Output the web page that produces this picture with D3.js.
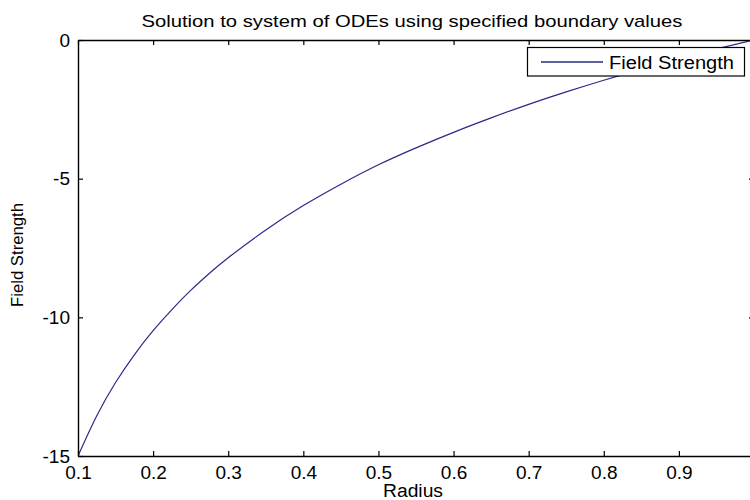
<!DOCTYPE html>
<html>
<head>
<meta charset="utf-8">
<script src="https://cdn.jsdelivr.net/npm/d3@7"></script>
<style>
  html, body { margin: 0; padding: 0; background: #fff; }
  svg { display: block; }
  text { font-family: "Liberation Sans", Arial, Helvetica, sans-serif; fill: #000; }
</style>
</head>
<body>
<svg id="chart" width="750" height="500"></svg>
<script>
// Solution curve: radius vs field strength
const radius = [0.1, 0.125, 0.15, 0.175, 0.2, 0.225, 0.25, 0.275, 0.3, 0.35, 0.4, 0.45, 0.5, 0.55, 0.6, 0.65, 0.7, 0.75, 0.8, 0.85, 0.9, 0.95, 1.0];
const fieldStrength = [-15, -13.55, -12.35, -11.35, -10.48, -9.72, -9.03, -8.41, -7.85, -6.85, -5.97, -5.2, -4.5, -3.89, -3.33, -2.81, -2.32, -1.87, -1.45, -1.06, -0.69, -0.33, 0];

const xTicks = [0.1, 0.2, 0.3, 0.4, 0.5, 0.6, 0.7, 0.8, 0.9];
const xTickLabels = ["0.1", "0.2", "0.3", "0.4", "0.5", "0.6", "0.7", "0.8", "0.9"];
const yTicks = [0, -5, -10, -15];
const yTickLabels = ["0", "-5", "-10", "-15"];

const titleText = "Solution to system of ODEs using specified boundary values";
const xLabel = "Radius";
const yLabel = "Field Strength";
const seriesName = "Field Strength";

const svg = d3.select("#chart");
const plot = { left: 78, right: 754, top: 40, bottom: 456 };

const x = d3.scaleLinear().domain([0.1, 1.0]).range([plot.left, plot.right]);
const y = d3.scaleLinear().domain([-15, 0]).range([plot.bottom, plot.top]);

const lineColor = "#2a2a86";
const tickLen = 5;

// clip region for the curve
svg.append("defs").append("clipPath").attr("id", "plotClip")
  .append("rect")
  .attr("x", plot.left).attr("y", plot.top - 1)
  .attr("width", plot.right - plot.left).attr("height", plot.bottom - plot.top + 2);

// curve
const pts = radius.map((r, i) => [r, fieldStrength[i]]);
svg.append("path")
  .datum(pts)
  .attr("clip-path", "url(#plotClip)")
  .attr("fill", "none")
  .attr("stroke", lineColor)
  .attr("stroke-width", 1.2)
  .attr("d", d3.line().x(d => x(d[0])).y(d => y(d[1])).curve(d3.curveNatural));

// axes: bottom / left with labels, top / right tick marks only (ticks point inward)
const axisStyle = g => {
  g.select(".domain").attr("stroke", "#000").attr("stroke-width", 1.4);
  g.selectAll(".tick line").attr("stroke", "#000").attr("stroke-width", 1.2);
};

const xBottom = svg.append("g")
  .attr("transform", `translate(0,${plot.bottom})`)
  .call(d3.axisBottom(x).tickValues(xTicks).tickSize(-tickLen).tickSizeOuter(0)
    .tickPadding(10).tickFormat((d, i) => xTickLabels[i]));
xBottom.call(axisStyle);
xBottom.selectAll("text").attr("font-size", 19).attr("fill", "#000");

const xTop = svg.append("g")
  .attr("transform", `translate(0,${plot.top})`)
  .call(d3.axisTop(x).tickValues(xTicks).tickSize(-tickLen).tickSizeOuter(0).tickFormat(""));
xTop.call(axisStyle);

const yLeft = svg.append("g")
  .attr("transform", `translate(${plot.left},0)`)
  .call(d3.axisLeft(y).tickValues(yTicks).tickSize(-tickLen).tickSizeOuter(0)
    .tickPadding(8).tickFormat((d, i) => yTickLabels[i]));
yLeft.call(axisStyle);
yLeft.selectAll("text").attr("font-size", 19).attr("fill", "#000");

const yRight = svg.append("g")
  .attr("transform", `translate(${plot.right},0)`)
  .call(d3.axisRight(y).tickValues(yTicks).tickSize(-tickLen).tickSizeOuter(0).tickFormat(""));
yRight.call(axisStyle);

// title
svg.append("text")
  .attr("x", 412).attr("y", 27)
  .attr("text-anchor", "middle")
  .attr("font-size", 17)
  .attr("textLength", 541).attr("lengthAdjust", "spacingAndGlyphs")
  .text(titleText);

// axis labels
svg.append("text")
  .attr("x", 413).attr("y", 497)
  .attr("text-anchor", "middle")
  .attr("font-size", 18)
  .attr("textLength", 60).attr("lengthAdjust", "spacingAndGlyphs")
  .text(xLabel);

svg.append("text")
  .attr("transform", "translate(23,255) rotate(-90)")
  .attr("text-anchor", "middle")
  .attr("font-size", 16)
  .attr("textLength", 104).attr("lengthAdjust", "spacingAndGlyphs")
  .text(yLabel);

// legend
const legend = svg.append("g");
legend.append("rect")
  .attr("x", 527.5).attr("y", 47.5).attr("width", 217).attr("height", 28.5)
  .attr("fill", "#fff").attr("stroke", "#000").attr("stroke-width", 1.2);
legend.append("line")
  .attr("x1", 541).attr("x2", 603).attr("y1", 62).attr("y2", 62)
  .attr("stroke", lineColor).attr("stroke-width", 1.3);
legend.append("text")
  .attr("x", 609).attr("y", 68.5)
  .attr("font-size", 18)
  .attr("textLength", 125).attr("lengthAdjust", "spacingAndGlyphs")
  .text(seriesName);
</script>
</body>
</html>
